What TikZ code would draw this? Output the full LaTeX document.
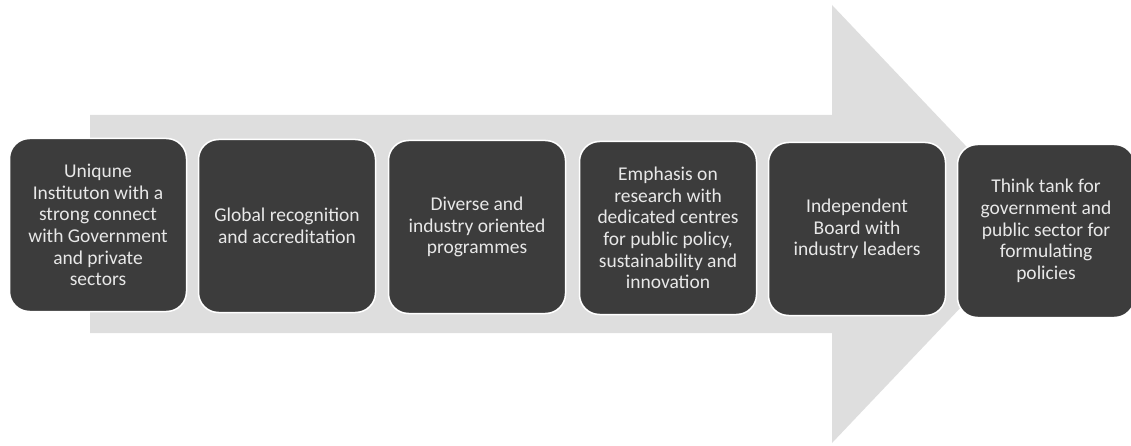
\documentclass[tikz,border=0pt]{standalone}
\usepackage{fontspec}
\setmainfont{Carlito}
\definecolor{arrowgray}{HTML}{DEDEDE}
\definecolor{boxgray}{HTML}{3C3C3C}
\definecolor{txtgray}{HTML}{E8E8E8}
\begin{document}
\begin{tikzpicture}[x=1pt,y=-1pt,
  stepbox/.style={draw=white, line width=1.5pt, fill=boxgray, rounded corners=20pt,
    minimum width=177pt, minimum height=173pt, inner sep=0pt,
    text=txtgray, align=center, font=\fontsize{19.5}{21.7}\selectfont}]
\useasboundingbox (0,0) rectangle (1131,446);
\fill[arrowgray] (90,115) -- (832,115) -- (832,5) -- (1040,224) -- (832,443) -- (832,333) -- (90,333) -- cycle;
\node[stepbox] (b1) at (98,225) {Uniqune\\Instituton with a\\strong connect\\with Government\\and private\\sectors};
\node[stepbox] (b2) at (287,226) {Global recognition\\and accreditation};
\node[stepbox] (b3) at (477,227) {Diverse and\\industry oriented\\programmes};
\node[stepbox] (b4) at (668,228) {Emphasis on\\research with\\dedicated centres\\for public policy,\\sustainability and\\innovation};
\node[stepbox] (b5) at (857,229) {Independent\\Board with\\industry leaders};
\node[stepbox] (b6) at (1046,231) {Think tank for\\government and\\public sector for\\formulating\\policies};
\end{tikzpicture}
\end{document}
